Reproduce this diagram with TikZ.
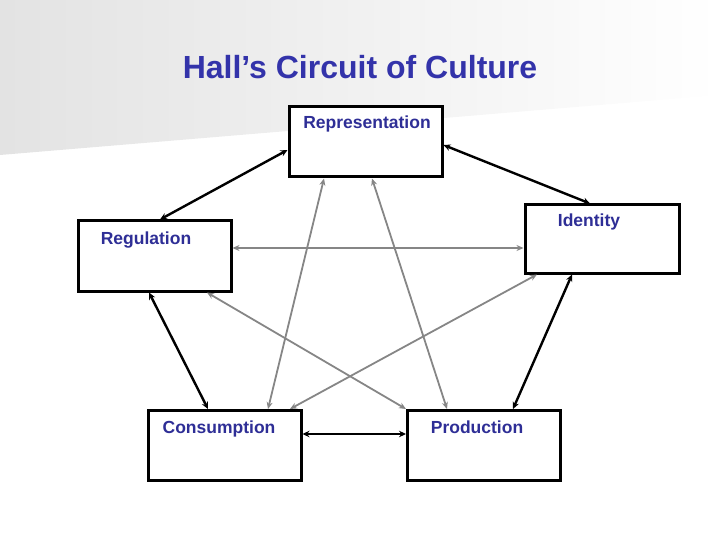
\documentclass[tikz,border=0pt]{standalone}
\usepackage{fontspec}
\setmainfont{Liberation Sans}
\usetikzlibrary{positioning, arrows.meta, shapes}
\definecolor{titleblue}{RGB}{51,51,170}
\definecolor{labelblue}{RGB}{46,46,150}

\begin{document}
\begin{tikzpicture}[
    x=1pt, y=-1pt,
    box/.style={rectangle, draw, line width=3pt, fill=white, minimum width=153pt, minimum height=70pt, inner sep=0pt},
    lbl/.style={anchor=base, font=\fontsize{17.5}{20}\selectfont\bfseries, text=labelblue, inner sep=0pt},
    link/.style={<->, >={Stealth[length=7pt,width=6.5pt]}, line width=2.4pt},
    cross/.style={<->, >={Stealth[length=7pt,width=6pt]}, draw=gray!95, line width=1.8pt}
]
\useasboundingbox (0,0) rectangle (720,540);
\shade[left color=black!11, right color=white] (0,0) -- (720,0) -- (720,95) -- (0,155) -- cycle;

\node[font=\fontsize{32}{38}\selectfont\bfseries, text=titleblue, anchor=base] (title) at (360,79) {Hall’s Circuit of Culture};

\node[box] (rep) at (365.5,142) {};
\node[box] (reg) at (154.5,256) {};
\node[box, minimum width=154pt, minimum height=68pt] (ide) at (602,239) {};
\node[box] (con) at (224.5,445.5) {};
\node[box] (pro) at (484,445.5) {};

\node[lbl] (replbl) at (367,128.5) {Representation};
\node[lbl] (reglbl) at (146,244) {Regulation};
\node[lbl] (idelbl) at (589,226.5) {Identity};
\node[lbl] (conlbl) at (219,433.3) {Consumption};
\node[lbl] (prolbl) at (477,433.3) {Production};

% outer circuit
\draw[link] ([shift={(0,8)}]rep.west) -- ([shift={(5.5,0)}]reg.north);
\draw[link] ([shift={(0,3)}]rep.east) -- ([shift={(-12,0)}]ide.north);
\draw[link] ([shift={(-5.5,0)}]reg.south) -- ([shift={(-16.5,0)}]con.north);
\draw[link] ([shift={(-30,0)}]ide.south) -- ([shift={(29,0)}]pro.north);
\draw[link] ([shift={(0,-11.5)}]con.east) -- ([shift={(0,-11.5)}]pro.west);

% cross links
\draw[cross] ([shift={(0,-8)}]reg.east) -- ([shift={(0,9)}]ide.west);
\draw[cross] ([shift={(-41.5,0)}]rep.south) -- ([shift={(43.5,0)}]con.north);
\draw[cross] ([shift={(6.5,0)}]rep.south) -- ([shift={(-37,0)}]pro.north);
\draw[cross] ([shift={(52.5,0)}]reg.south) -- (pro.north west);
\draw[cross] ([shift={(-65,0)}]ide.south) -- ([shift={(65.5,0)}]con.north);
\end{tikzpicture}
\end{document}
